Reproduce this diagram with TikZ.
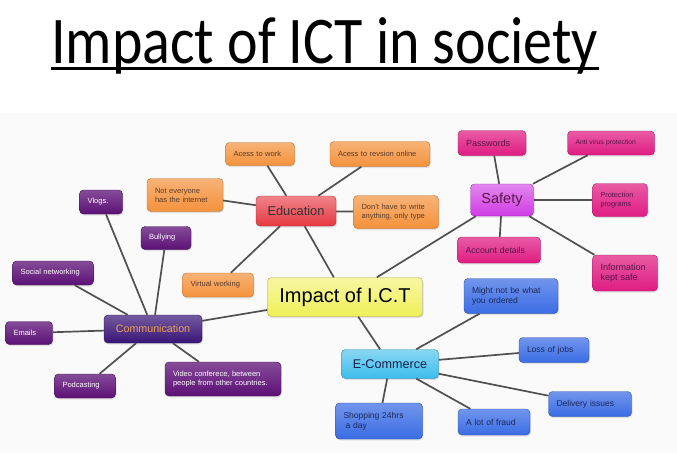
\documentclass[tikz,border=0pt]{standalone}
\usepackage{fontspec}
\setmainfont{Liberation Sans}
\newfontfamily\titlefont{Carlito}
\usetikzlibrary{shadows}

\definecolor{commleaf}{RGB}{92,16,118}
\definecolor{commhub}{RGB}{56,20,118}
\definecolor{commtext}{RGB}{240,162,84}
\definecolor{eduleaf}{RGB}{244,146,60}
\definecolor{eduhub}{RGB}{230,56,66}
\definecolor{edutext}{RGB}{92,58,40}
\definecolor{safeleaf}{RGB}{224,28,130}
\definecolor{safehub}{RGB}{208,60,228}
\definecolor{safetext}{RGB}{88,22,72}
\definecolor{ecomleaf}{RGB}{58,108,228}
\definecolor{ecomhub}{RGB}{60,188,236}
\definecolor{ecomtext}{RGB}{28,40,92}
\definecolor{impfill}{RGB}{240,240,88}
\definecolor{linkgray}{RGB}{80,80,80}

\tikzset{
  box/.style={rounded corners=4pt, inner ysep=2pt, anchor=center,
    drop shadow={opacity=0.2, shadow xshift=1pt, shadow yshift=-1.5pt}},
  leaf/.style={box, inner xsep=8pt, align=left, font=\fontsize{7.5}{9}\selectfont},
  hub/.style={box, inner xsep=4pt, align=center},
  commleafbox/.style={leaf, top color=commleaf!75!white, bottom color=commleaf, draw=commleaf!70!black, text=white},
  eduleafbox/.style={leaf, top color=eduleaf!70!white, bottom color=eduleaf, draw=eduleaf!75!black, text=edutext},
  safeleafbox/.style={leaf, top color=safeleaf!72!white, bottom color=safeleaf, draw=safeleaf!75!black, text=safetext},
  ecomleafbox/.style={leaf, top color=ecomleaf!72!white, bottom color=ecomleaf, draw=ecomleaf!70!black, text=ecomtext,
    font=\fontsize{8.5}{10}\selectfont},
  link/.style={draw=linkgray, line width=1.7pt}
}

\begin{document}
\begin{tikzpicture}[x=1pt,y=-1pt]
  \useasboundingbox (0,0) rectangle (677,453);
  \fill[black!2] (0,113) rectangle (677,453);

  % title
  \node[anchor=base west, inner sep=0pt, font=\titlefont\fontsize{58}{60}\selectfont] (title) at (51,63)
    {\scalebox{1}[1.15]{Impact of ICT in society}};
  \draw[line width=2.6pt] ([yshift=-5.5pt]title.base west) -- ([yshift=-5.5pt]title.base east);

  % centre
  \node[hub, top color=impfill!55!white, bottom color=impfill, draw=impfill!70!black,
    minimum width=155pt, minimum height=39pt, font=\fontsize{20}{22}\selectfont] (impact) at (345,297) {Impact of I.C.T};

  % communication
  \node[hub, top color=commhub!70!white, bottom color=commhub, draw=commhub!70!black, text=commtext,
    minimum width=98pt, minimum height=28pt, font=\fontsize{10.7}{12}\selectfont] (comm) at (153,329) {Communication};
  \node[commleafbox, text width=27pt, minimum height=24pt] (vlogs) at (101,202) {Vlogs.};
  \node[commleafbox, text width=34pt, minimum height=23pt] (bullying) at (166,238) {Bullying};
  \node[commleafbox, text width=65pt, minimum height=24pt] (socnet) at (53,273) {Social networking};
  \node[commleafbox, text width=31pt, minimum height=23pt] (emails) at (29,333) {Emails};
  \node[commleafbox, text width=45pt, minimum height=24pt] (podcast) at (85,386) {Podcasting};
  \node[commleafbox, text width=100pt, minimum height=34pt] (video) at (223,379)
    {Video conferece, between\\people from other countries.};

  % education
  \node[hub, top color=eduhub!62!white, bottom color=eduhub, draw=eduhub!75!black, text=black!80,
    minimum width=80pt, minimum height=30pt, font=\fontsize{12.8}{14}\selectfont] (edu) at (296,211) {Education};
  \node[eduleafbox, text width=53pt, minimum height=23pt] (work) at (260,154) {Acess to work};
  \node[eduleafbox, text width=84pt, minimum height=25pt] (revision) at (380,154) {Acess to revsion online};
  \node[eduleafbox, text width=60pt, minimum height=33pt] (noteveryone) at (185,195) {Not everyone\\has the internet};
  \node[eduleafbox, text width=69pt, minimum height=33pt] (nowrite) at (396,212) {Don't have to write\\anything, only type};
  \node[eduleafbox, text width=55pt, minimum height=24pt] (virtual) at (218,285) {Virtual working};

  % safety
  \node[hub, top color=safehub!62!white, bottom color=safehub, draw=safehub!75!black, text=safetext,
    minimum width=63pt, minimum height=32pt, font=\fontsize{14.5}{16}\selectfont] (safety) at (502,200) {Safety};
  \node[safeleafbox, text width=52pt, minimum height=25pt, font=\fontsize{9}{10}\selectfont] (passwords) at (492,143) {Passwords};
  \node[safeleafbox, text width=71pt, minimum height=24pt, font=\fontsize{6.8}{8}\selectfont] (antivirus) at (611,143) {Anti virus protection};
  \node[safeleafbox, text width=39pt, minimum height=33pt, font=\fontsize{7.3}{9}\selectfont] (protection) at (620,200) {Protection\\programs};
  \node[safeleafbox, text width=67pt, minimum height=26pt, font=\fontsize{8.7}{10}\selectfont] (account) at (499,250) {Account details};
  \node[safeleafbox, text width=49pt, minimum height=36pt, font=\fontsize{9}{10.5}\selectfont] (information) at (625,273) {Information\\kept safe};

  % e-commerce
  \node[hub, top color=ecomhub!60!white, bottom color=ecomhub, draw=ecomhub!70!black, text=ecomtext!80!black,
    minimum width=97pt, minimum height=29pt, font=\fontsize{12.6}{14}\selectfont] (ecom) at (390,364) {E-Commerce};
  \node[ecomleafbox, text width=78pt, minimum height=35pt] (mightnot) at (511,296) {Might not be what\\you ordered};
  \node[ecomleafbox, text width=54pt, minimum height=25pt] (jobs) at (554,350) {Loss of jobs};
  \node[ecomleafbox, text width=67pt, minimum height=25pt] (delivery) at (590,404) {Delivery issues};
  \node[ecomleafbox, text width=56pt, minimum height=26pt] (fraud) at (494,422) {A lot of fraud};
  \node[ecomleafbox, text width=71pt, minimum height=36pt] (shopping) at (379,421) {Shopping 24hrs\\\hspace{2pt}a day};

  % links
  \foreach \hub in {comm,edu,safety,ecom}
    \draw[link] (impact) -- (\hub);
  \foreach \leaf in {vlogs,bullying,socnet,emails,podcast,video}
    \draw[link] (comm) -- (\leaf);
  \foreach \leaf in {work,revision,noteveryone,nowrite,virtual}
    \draw[link] (edu) -- (\leaf);
  \foreach \leaf in {passwords,antivirus,protection,account,information}
    \draw[link] (safety) -- (\leaf);
  \foreach \leaf in {mightnot,jobs,delivery,fraud,shopping}
    \draw[link] (ecom) -- (\leaf);
\end{tikzpicture}
\end{document}
